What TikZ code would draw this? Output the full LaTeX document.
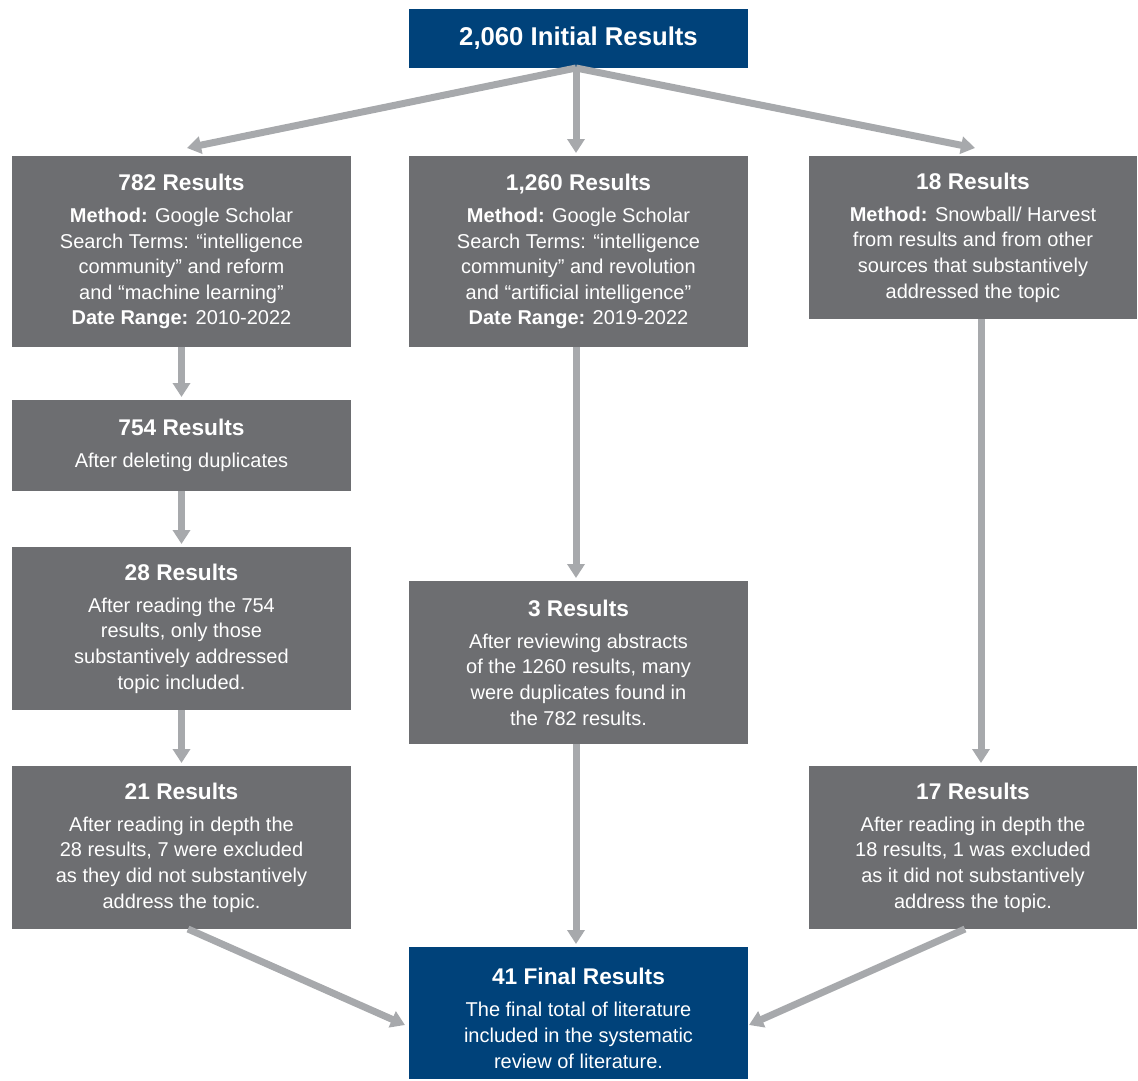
\documentclass[tikz,border=0pt]{standalone}
\usepackage{fontspec}
\setmainfont{Liberation Sans}
\usetikzlibrary{arrows.meta}
\definecolor{navy}{RGB}{0,66,122}
\definecolor{slate}{RGB}{109,110,113}
\definecolor{linkgray}{RGB}{167,169,172}
\tikzset{
  x=1pt, y=-1pt,
  box/.style={rectangle, inner sep=0pt, outer sep=0pt, text=white, align=center,
    font=\fontsize{20}{25.6}\selectfont},
  graybox/.style={box, fill=slate},
  bluebox/.style={box, fill=navy},
  flow/.style={draw=linkgray, line width=7pt,
    -{Triangle[width=17pt,length=14pt]}},
}
\newcommand{\hd}[1]{{\fontsize{22.7}{25.6}\selectfont\bfseries #1}\\[6.5pt]}
\begin{document}
\begin{tikzpicture}
\useasboundingbox (0,0) rectangle (1138,1080);

% top
\node[bluebox, minimum width=339pt, minimum height=59pt,
      font=\fontsize{25.7}{30}\selectfont\bfseries] (top) at (578.5,38.5) {2,060 Initial Results};

% first row
\node[graybox, minimum width=339pt, minimum height=191pt] (b782) at (181.5,251.5)
  {\hd{782 Results}\textbf{Method:} Google Scholar\\Search Terms: “intelligence\\community” and reform\\and “machine learning”\\\textbf{Date Range:} 2010-2022};
\node[graybox, minimum width=339pt, minimum height=191pt] (b1260) at (578.5,251.5)
  {\hd{1,260 Results}\textbf{Method:} Google Scholar\\Search Terms: “intelligence\\community” and revolution\\and “artificial intelligence”\\\textbf{Date Range:} 2019-2022};
\node[graybox, minimum width=328pt, minimum height=163pt] (b18) at (973,237.5)
  {\hd{18 Results}\textbf{Method:} Snowball/ Harvest\\from results and from other\\sources that substantively\\addressed the topic};

% left column
\node[graybox, minimum width=339pt, minimum height=91pt] (b754) at (181.5,445.5)
  {\hd{754 Results}After deleting duplicates};
\node[graybox, minimum width=339pt, minimum height=163pt] (b28) at (181.5,628.5)
  {\hd{28 Results}After reading the 754\\results, only those\\substantively addressed\\topic included.};
\node[graybox, minimum width=339pt, minimum height=163pt] (b21) at (181.5,847.5)
  {\hd{21 Results}After reading in depth the\\28 results, 7 were excluded\\as they did not substantively\\address the topic.};

% middle column
\node[graybox, minimum width=339pt, minimum height=163pt] (b3) at (578.5,662.5)
  {\hd{3 Results}After reviewing abstracts\\of the 1260 results, many\\were duplicates found in\\the 782 results.};

% right column
\node[graybox, minimum width=328pt, minimum height=163pt] (b17) at (973,847.5)
  {\hd{17 Results}After reading in depth the\\18 results, 1 was excluded\\as it did not substantively\\address the topic.};

% final (text sits slightly low in the box)
\node[bluebox, minimum width=339pt, minimum height=132pt] (final) at (578.5,1013)
  {\hd{\rule{0pt}{27pt}41 Final Results}The final total of literature\\included in the systematic\\review of literature.};

% arrow ends
\coordinate (splitL) at (187,148);
\coordinate (splitR) at (975,148);
\coordinate (inL) at (405,1025);
\coordinate (inR) at (749,1025);

% connectors
\draw[flow] ([xshift=-2.5pt]top.south) -- (splitL);
\draw[flow] ([xshift=-2.5pt]top.south) -- ([xshift=-2.5pt,yshift=3pt]b1260.north);
\draw[flow] ([xshift=-2.5pt]top.south) -- (splitR);

\draw[flow] (b782.south) -- ([yshift=3pt]b754.north);
\draw[flow] (b754.south) -- ([yshift=3pt]b28.north);
\draw[flow] (b28.south) -- ([yshift=3pt]b21.north);

\draw[flow] ([xshift=-2.5pt]b1260.south) -- ([xshift=-2.5pt,yshift=3pt]b3.north);
\draw[flow] ([xshift=-2.5pt]b3.south) -- ([xshift=-2.5pt,yshift=3pt]final.north);

\draw[flow] ([xshift=8pt]b18.south) -- ([xshift=8pt,yshift=3pt]b17.north);

\draw[flow] ([xshift=6.5pt]b21.south) -- (inL);
\draw[flow] ([xshift=-8pt]b17.south) -- (inR);
\end{tikzpicture}
\end{document}
